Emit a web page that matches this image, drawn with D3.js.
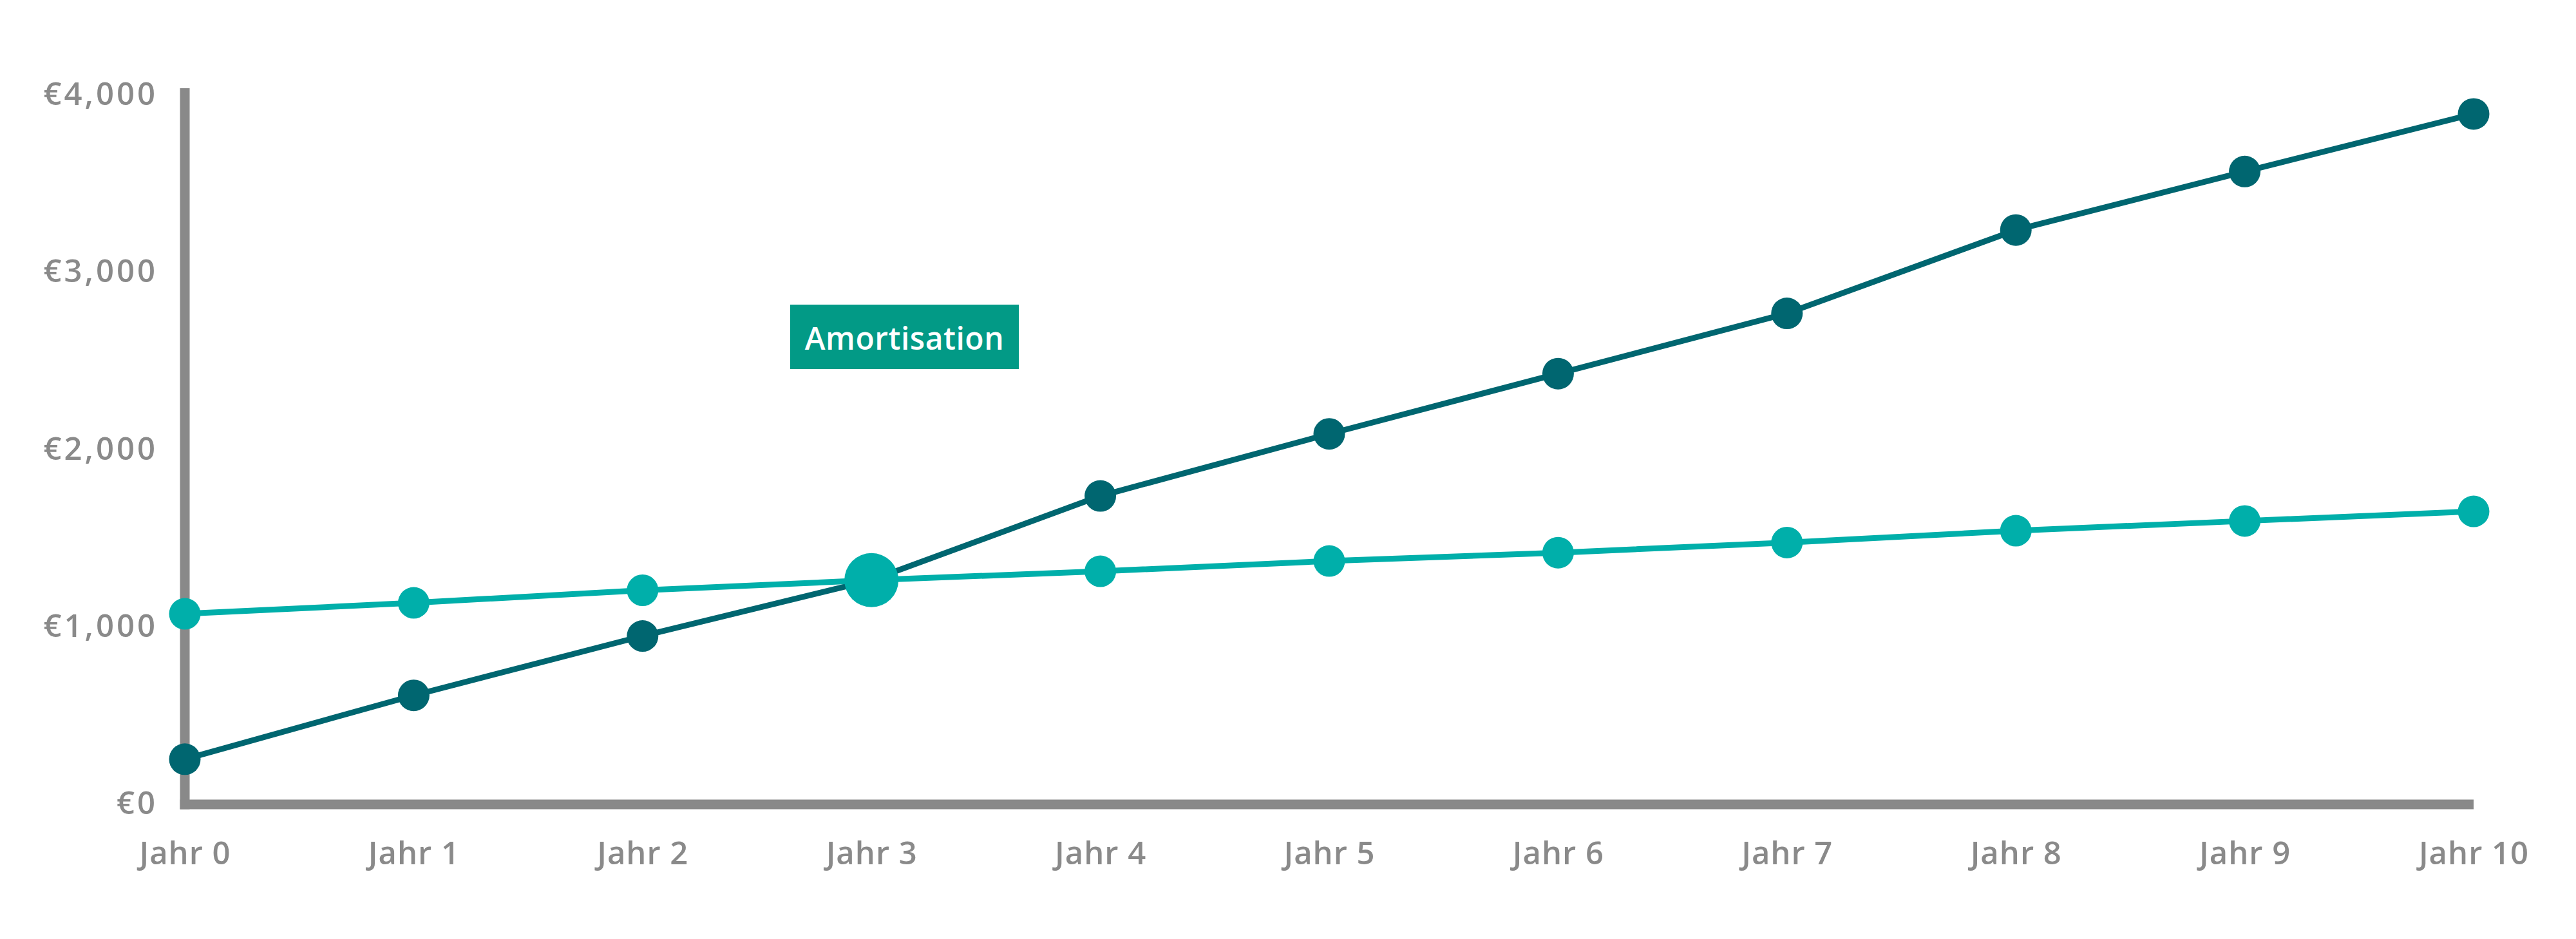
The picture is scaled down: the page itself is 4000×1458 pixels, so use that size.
<!DOCTYPE html>
<html>
<head>
<meta charset="utf-8">
<script src="https://cdn.jsdelivr.net/npm/d3@7"></script>
<style>
  html, body { margin: 0; padding: 0; background: #ffffff; }
  svg { display: block; }
  text { font-family: "Open Sans", "Noto Sans", sans-serif; }
</style>
</head>
<body>
<svg id="chart" width="4000" height="1458"></svg>
<script>
// ---- data ----
const years = ["Jahr 0", "Jahr 1", "Jahr 2", "Jahr 3", "Jahr 4", "Jahr 5", "Jahr 6", "Jahr 7", "Jahr 8", "Jahr 9", "Jahr 10"];
const savingsValues = [255, 615, 950, 1265, 1740, 2090, 2430, 2770, 3240, 3570, 3895];
const costValues = [1075, 1137, 1208, 1265, 1315, 1373, 1420, 1477, 1544, 1599, 1653];
const yTicks = [0, 1000, 2000, 3000, 4000];
const yTickLabels = ["€0", "€1,000", "€2,000", "€3,000", "€4,000"];
const breakEvenIndex = 3;
const annotationText = "Amortisation";

// ---- styles ----
const darkTeal = "#006670";
const lightTeal = "#00afaa";
const boxGreen = "#029a86";
const axisGray = "#898989";
const textGray = "#8a8a8a";

const svg = d3.select("#chart");

const x = d3.scalePoint().domain(years).range([287, 3841]);
const y = d3.scaleLinear().domain([0, 4000]).range([1249, 148]);

// ---- axes ----
const axisThick = 15;
// y axis line
svg.append("line")
  .attr("x1", x(years[0])).attr("x2", x(years[0]))
  .attr("y1", y(4000) - 11).attr("y2", y(0) + axisThick / 2)
  .attr("stroke", axisGray).attr("stroke-width", axisThick);
// x axis line
svg.append("line")
  .attr("x1", x(years[0]) - axisThick / 2).attr("x2", x(years[years.length - 1]))
  .attr("y1", y(0)).attr("y2", y(0))
  .attr("stroke", axisGray).attr("stroke-width", axisThick);

// y tick labels
const yAxis = d3.axisLeft(y)
  .tickValues(yTicks)
  .tickFormat((d, i) => yTickLabels[i])
  .tickSize(0)
  .tickPadding(42);
const gy = svg.append("g")
  .attr("transform", `translate(${x(years[0])},0)`)
  .call(yAxis);
gy.select(".domain").remove();
gy.selectAll("text")
  .attr("fill", textGray)
  .attr("font-size", 49)
  .attr("font-weight", 600)
  .attr("letter-spacing", 4)
  .attr("font-family", "'Open Sans', sans-serif")
  .attr("dy", "0.3em");

// x tick labels
const xAxis = d3.axisBottom(x).tickSize(0).tickPadding(58);
const gx = svg.append("g")
  .attr("transform", `translate(0,${y(0)})`)
  .call(xAxis);
gx.select(".domain").remove();
gx.selectAll("text")
  .attr("fill", textGray)
  .attr("font-size", 49)
  .attr("font-weight", 600)
  .attr("letter-spacing", 1)
  .attr("font-family", "'Open Sans', sans-serif");

// ---- series ----
const line = d3.line().x((d, i) => x(years[i])).y(d => y(d));

function drawSeries(values, color, bigIndex) {
  svg.append("path")
    .datum(values)
    .attr("d", line)
    .attr("fill", "none")
    .attr("stroke", color)
    .attr("stroke-width", 9)
    .attr("stroke-linejoin", "round");
  svg.append("g").selectAll("circle")
    .data(values)
    .join("circle")
    .attr("cx", (d, i) => x(years[i]))
    .attr("cy", d => y(d))
    .attr("r", (d, i) => i === bigIndex ? 42 : 24.5)
    .attr("fill", color);
}

drawSeries(savingsValues, darkTeal, -1);
drawSeries(costValues, lightTeal, breakEvenIndex);

// ---- annotation ----
const ann = svg.append("g").attr("transform", "translate(1227,473)");
ann.append("rect")
  .attr("width", 355).attr("height", 100)
  .attr("fill", boxGreen);
ann.append("text")
  .attr("x", 177.5).attr("y", 70)
  .attr("text-anchor", "middle")
  .attr("fill", "#ffffff")
  .attr("font-size", 48)
  .attr("font-weight", 600)
  .attr("letter-spacing", 0.5)
  .text(annotationText);
</script>
</body>
</html>
